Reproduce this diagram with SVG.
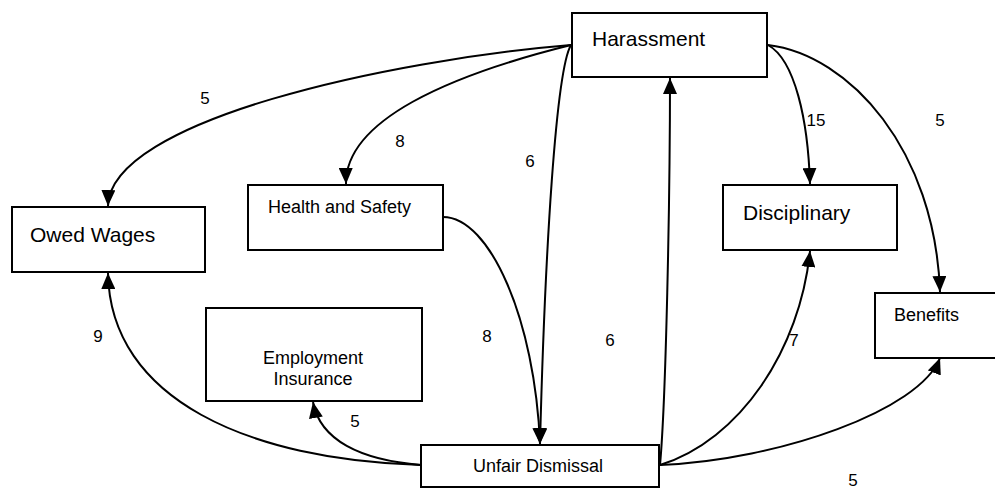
<svg xmlns="http://www.w3.org/2000/svg" width="995" height="489" viewBox="0 0 995 489">
<defs>
<style>
.box{fill:#fff;stroke:#000;stroke-width:2}
.big{font-family:"Liberation Sans",Arial,sans-serif;font-size:21px;fill:#000}
.mid{font-family:"Liberation Sans",Arial,sans-serif;font-size:18px;fill:#000}
.lbl{font-family:"Liberation Sans",Arial,sans-serif;font-size:17px;fill:#000}
.edge{fill:none;stroke:#000;stroke-width:2;marker-end:url(#arr)}
</style>
<marker id="arr" markerUnits="userSpaceOnUse" markerWidth="16" markerHeight="14" viewBox="0 0 16 14" refX="16" refY="7" orient="auto">
<path d="M0,0 L16,7 L0,14 Z" fill="#000"/>
</marker>
</defs>
<rect width="995" height="489" fill="#fff"/>
<g id="connectors">
<path class="edge" d="M571,45 C 390,60 110,120 108,206"/>
<path class="edge" d="M571,45 C 450,75 345,120 346,184"/>
<path class="edge" d="M571,45 C 556,70 545,250 540,444"/>
<path class="edge" d="M443,217 C 490,217 535,320 540,444"/>
<path class="edge" d="M660,465 C 666,400 670,200 670,78"/>
<path class="edge" d="M660,465 C 740,440 800,350 810,251"/>
<path class="edge" d="M660,465 C 780,460 920,410 940,358"/>
<path class="edge" d="M421,465 C 250,460 110,400 108,273"/>
<path class="edge" d="M421,465 C 360,460 320,440 313,402"/>
<path class="edge" d="M768,45 C 795,60 808,120 810,184"/>
<path class="edge" d="M768,45 C 850,55 935,150 940,292"/>
<text class="lbl" x="205" y="104" text-anchor="middle">5</text>
<text class="lbl" x="400" y="147" text-anchor="middle">8</text>
<text class="lbl" x="530" y="167" text-anchor="middle">6</text>
<text class="lbl" x="816" y="126" text-anchor="middle">15</text>
<text class="lbl" x="940" y="126" text-anchor="middle">5</text>
<text class="lbl" x="610" y="346" text-anchor="middle">6</text>
<text class="lbl" x="794" y="346" text-anchor="middle">7</text>
<text class="lbl" x="98" y="342" text-anchor="middle">9</text>
<text class="lbl" x="487" y="342" text-anchor="middle">8</text>
<text class="lbl" x="355" y="427" text-anchor="middle">5</text>
<text class="lbl" x="853" y="486" text-anchor="middle">5</text>
</g>
<g id="harassment"><rect class="box" x="572" y="13" width="195" height="64"/><text class="big" x="592" y="46">Harassment</text></g>
<g id="owed-wages"><rect class="box" x="12" y="207" width="193" height="65"/><text class="big" x="30" y="242">Owed Wages</text></g>
<g id="health-safety"><rect class="box" x="248" y="185" width="195" height="65"/><text class="mid" x="268" y="213">Health and Safety</text></g>
<g id="disciplinary"><rect class="box" x="723" y="185" width="174" height="65"/><text class="big" x="743" y="220">Disciplinary</text></g>
<g id="benefits"><rect class="box" x="875" y="293" width="125" height="65"/><text class="mid" x="894" y="321">Benefits</text></g>
<g id="employment-insurance"><rect class="box" x="206" y="308" width="216" height="93"/><text class="mid" x="313" y="364" text-anchor="middle">Employment</text><text class="mid" x="313" y="385" text-anchor="middle">Insurance</text></g>
<g id="unfair-dismissal"><rect class="box" x="421" y="445" width="238" height="42"/><text class="mid" x="473" y="472">Unfair Dismissal</text></g>
</svg>
